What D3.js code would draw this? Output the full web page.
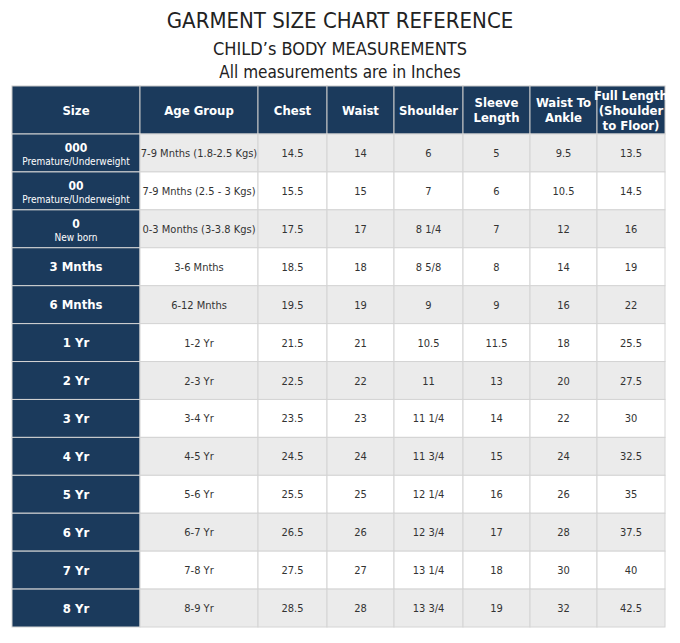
<!DOCTYPE html>
<html><head><meta charset="utf-8">
<script src="https://cdn.jsdelivr.net/npm/d3@7"></script>
<style>body{margin:0;background:#fff}text{font-family:"Liberation Sans Narrow","DejaVu Sans Condensed",sans-serif}</style>
</head><body>
<script>
var headers = [["Size"],["Age Group"],["Chest"],["Waist"],["Shoulder"],["Sleeve","Length"],["Waist To","Ankle"],["Full Length","(Shoulder","to Floor)"]];
var sizes = ["000","00","0","3 Mnths","6 Mnths","1 Yr","2 Yr","3 Yr","4 Yr","5 Yr","6 Yr","7 Yr","8 Yr"];
var sizeNotes = ["Premature/Underweight","Premature/Underweight","New born","","","","","","","","","",""];
var ageGroups = ["7-9 Mnths (1.8-2.5 Kgs)","7-9 Mnths (2.5 - 3 Kgs)","0-3 Months (3-3.8 Kgs)","3-6 Mnths","6-12 Mnths","1-2 Yr","2-3 Yr","3-4 Yr","4-5 Yr","5-6 Yr","6-7 Yr","7-8 Yr","8-9 Yr"];
var chest = ["14.5","15.5","17.5","18.5","19.5","21.5","22.5","23.5","24.5","25.5","26.5","27.5","28.5"];
var waist = ["14","15","17","18","19","21","22","23","24","25","26","27","28"];
var shoulder = ["6","7","8 1/4","8 5/8","9","10.5","11","11 1/4","11 3/4","12 1/4","12 3/4","13 1/4","13 3/4"];
var sleeve = ["5","6","7","8","9","11.5","13","14","15","16","17","18","19"];
var waistAnkle = ["9.5","10.5","12","14","16","18","20","22","24","26","28","30","32"];
var fullLength = ["13.5","14.5","16","19","22","25.5","27.5","30","32.5","35","37.5","40","42.5"];

var colEdges = [12,140,258,327,394,463,530,597,665];
var navy = "#1b3a5c";
var svg = d3.select("body").append("svg").attr("width",680).attr("height",643);

svg.append("text").attr("x",340).attr("y",28).attr("text-anchor","middle").attr("font-size",22).attr("fill","#222").text("GARMENT SIZE CHART REFERENCE");
svg.append("text").attr("x",340).attr("y",55).attr("text-anchor","middle").attr("font-size",18).attr("fill","#222").text("CHILD’s BODY MEASUREMENTS");
svg.append("text").attr("x",340).attr("y",78).attr("text-anchor","middle").attr("font-size",17).attr("fill","#222").text("All measurements are in Inches");

var y = d3.scaleBand().domain(d3.range(sizes.length)).range([134,627]);
var cols = d3.range(8);

// header
var hy0 = 86, hy1 = 134;
cols.forEach(function(c){
  var x0 = colEdges[c], x1 = colEdges[c+1];
  svg.append("rect").attr("x",x0).attr("y",hy0).attr("width",x1-x0).attr("height",hy1-hy0).attr("fill",navy).attr("stroke","#c8c8c8").attr("stroke-width",1);
  var lines = headers[c], lh = 15, start = (hy0+hy1)/2 - (lines.length-1)*lh/2 + 4.5;
  lines.forEach(function(l,i){
    svg.append("text").attr("x",(x0+x1)/2).attr("y",start+i*lh).attr("text-anchor","middle").attr("font-size",13).attr("font-weight","bold").attr("fill","#fff").text(l);
  });
});

var data = sizes.map(function(s,i){ return [s, ageGroups[i], chest[i], waist[i], shoulder[i], sleeve[i], waistAnkle[i], fullLength[i]]; });
var rows = svg.selectAll("g.row").data(data).enter().append("g").attr("class","row");
rows.each(function(d,i){
  var g = d3.select(this), ry = y(i), h = y.bandwidth();
  cols.forEach(function(c){
    var x0 = colEdges[c], x1 = colEdges[c+1];
    g.append("rect").attr("x",x0).attr("y",ry).attr("width",x1-x0).attr("height",h)
      .attr("fill", c===0 ? navy : (i%2===0 ? "#ebebeb" : "#fff")).attr("stroke","#d4d4d4").attr("stroke-width",1);
    if (c===0) {
      if (sizeNotes[i]) {
        g.append("text").attr("x",(x0+x1)/2).attr("y",ry+h/2-1).attr("text-anchor","middle").attr("font-size",12).attr("font-weight","bold").attr("fill","#fff").text(d[0]);
        g.append("text").attr("x",(x0+x1)/2).attr("y",ry+h/2+12).attr("text-anchor","middle").attr("font-size",10).attr("fill","#fff").text(sizeNotes[i]);
      } else {
        g.append("text").attr("x",(x0+x1)/2).attr("y",ry+h/2+4.5).attr("text-anchor","middle").attr("font-size",13).attr("font-weight","bold").attr("fill","#fff").text(d[0]);
      }
    } else {
      g.append("text").attr("x",(x0+x1)/2).attr("y",ry+h/2+4).attr("text-anchor","middle").attr("font-size",11).attr("fill","#333").text(d[c]);
    }
  });
});
</script>
</body></html>
